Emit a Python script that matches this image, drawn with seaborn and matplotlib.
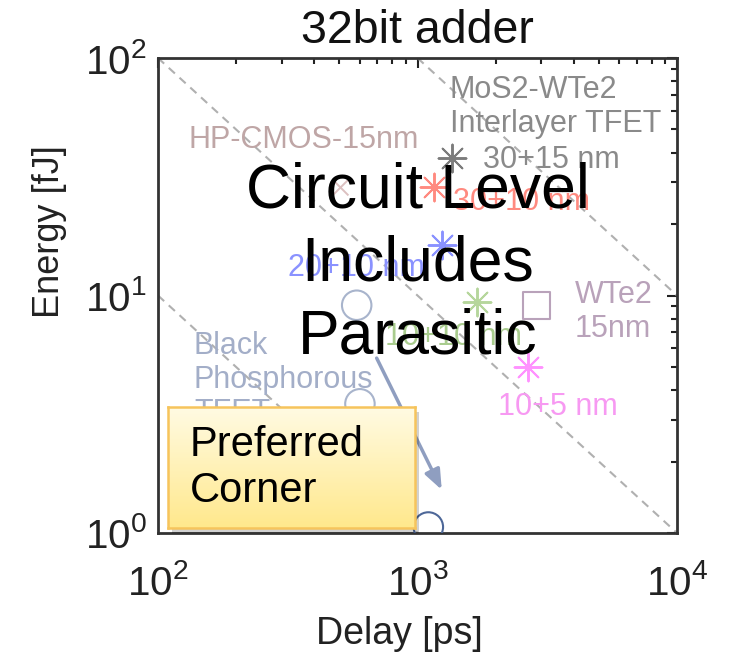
import numpy as np
import pandas as pd
import matplotlib
matplotlib.use("Agg")
import matplotlib.pyplot as plt
import seaborn as sns
from matplotlib.ticker import FixedLocator, FixedFormatter, LogLocator, NullFormatter
from matplotlib.patches import Rectangle
from matplotlib.colors import LinearSegmentedColormap

sns.set_theme(style="white")
plt.rcParams["font.family"] = ["Liberation Sans", "DejaVu Sans"]
plt.rcParams["mathtext.fontset"] = "custom"
plt.rcParams["mathtext.rm"] = "Liberation Sans"

# ---------------- data ----------------
device = ["HP-CMOS-15nm", "30+15 nm", "30+10 nm", "20+10 nm", "10+10 nm",
          "10+5 nm", "WTe2 15nm", "BP a", "BP b", "BP c"]
delay_ps = [502, 1355, 1159, 1240, 1690, 2674, 2877, 583, 600, 1101]
energy_fj = [28.7, 37.8, 28.7, 16.3, 9.4, 5.0, 9.1, 9.1, 3.5, 1.06]
marker_kind = ["x", "ast", "ast", "ast", "ast", "ast", "sq", "o", "o", "o"]
point_color = ["#dcc0c0", "#7c7c7c", "#ff8a80", "#8a92ff", "#b6d69c",
               "#ff92ff", "#b9a2ba", "#a8b4cc", "#a8b4cc", "#4d6798"]

# constant energy-delay-product guide lines (endpoints)
guide_x = [[100, 10000], [1000, 10000], [100, 1000]]
guide_y = [[100, 1], [100, 10], [10, 1]]

# arrow (black phosphorous trend)
arrow_start = (696, 5.45)
arrow_end = (1240, 1.52)

# labels: text, x, y, colour
label_text = ["HP-CMOS-15nm", "MoS2-WTe2\nInterlayer TFET", "30+15 nm", "30+10 nm",
              "20+10 nm", "10+10 nm", "WTe2\n15nm", "10+5 nm",
              "Black\nPhosphorous\nTFET"]
label_x = [130.5, 1334, 1788, 1371, 317, 750, 4046, 2043, 137.6]
label_y = [45.2, 62.2, 37.2, 24.7, 13.1, 6.69, 8.52, 3.39, 4.41]
label_color = ["#bfa6a6", "#8a8a8a", "#8a8a8a", "#ff8a80", "#8a92ff", "#a9cc8e",
               "#b9a2ba", "#f799f2", "#a3aec8"]

xticks = [1e2, 1e3, 1e4]
xtick_labels = [r"$\mathregular{10^{2}}$", r"$\mathregular{10^{3}}$", r"$\mathregular{10^{4}}$"]
yticks = [1e0, 1e1, 1e2]
ytick_labels = [r"$\mathregular{10^{0}}$", r"$\mathregular{10^{1}}$", r"$\mathregular{10^{2}}$"]

df = pd.DataFrame({"device": device, "delay": delay_ps, "energy": energy_fj,
                   "kind": marker_kind, "color": point_color})

# ---------------- figure ----------------
fig = plt.figure(figsize=(7.29, 6.60), dpi=100)
ax = fig.add_axes([158 / 729, 1 - 533 / 660, 519 / 729, 475 / 660])
ax.set_xscale("log")
ax.set_yscale("log")
ax.set_xlim(1e2, 1e4)
ax.set_ylim(1e0, 1e2)

for gx, gy in zip(guide_x, guide_y):
    sns.lineplot(x=gx, y=gy, ax=ax, color="#b0b0b0", lw=1.5,
                 linestyle=(0, (4, 3)), zorder=1)

marker_map = {"x": "x", "ast": (8, 2, 0), "sq": "s", "o": "o"}
size_map = {"x": 130, "ast": 400, "sq": 370, "o": 450}
for i, row in df.iterrows():
    sub = df.iloc[[i]]
    k = row["kind"]
    if k in ("sq", "o"):
        sns.scatterplot(data=sub, x="delay", y="energy", ax=ax, marker=marker_map[k],
                        s=size_map[k], facecolors="none", edgecolor=row["color"],
                        color=row["color"], linewidth=1.5, legend=False, zorder=3)
    else:
        sns.scatterplot(data=sub, x="delay", y="energy", ax=ax, marker=marker_map[k],
                        s=size_map[k], color=row["color"], linewidth=1.4,
                        legend=False, zorder=3)

ax.annotate("", xy=arrow_end, xytext=arrow_start,
            arrowprops=dict(arrowstyle="-|>,head_length=1.0,head_width=0.4",
                            color="#8f9ec0", lw=2.5, shrinkA=0, shrinkB=0),
            zorder=2)

for t, x, y, c in zip(label_text, label_x, label_y, label_color):
    ax.text(x, y, t, color=c, fontsize=22, ha="left", va="center",
            linespacing=1.15, zorder=4)

ax.text(1004, 13.6, "Circuit Level\nIncludes\nParasitic", fontsize=45, color="black",
        ha="center", va="center", linespacing=1.3, zorder=6)

# axes styling
ax.xaxis.set_major_locator(FixedLocator(xticks))
ax.xaxis.set_major_formatter(FixedFormatter(xtick_labels))
ax.yaxis.set_major_locator(FixedLocator(yticks))
ax.yaxis.set_major_formatter(FixedFormatter(ytick_labels))
ax.xaxis.set_minor_locator(LogLocator(base=10, subs=np.arange(2, 10)))
ax.yaxis.set_minor_locator(LogLocator(base=10, subs=np.arange(2, 10)))
ax.xaxis.set_minor_formatter(NullFormatter())
ax.yaxis.set_minor_formatter(NullFormatter())
ax.tick_params(which="both", direction="in", top=True, right=True, colors="#222222",
               width=1.5)
ax.tick_params(which="major", length=7, labelsize=29)
ax.tick_params(which="minor", length=4)
ax.tick_params(axis="x", which="major", pad=22)
ax.tick_params(axis="y", which="major", pad=8)
for s in ax.spines.values():
    s.set_color("#333333")
    s.set_linewidth(2.0)
ax.grid(False)

ax.set_xlabel("Delay [ps]", fontsize=27, color="#222222")
ax.set_ylabel("Energy [fJ]", fontsize=26, color="#222222")
ax.xaxis.set_label_coords(0.466, -0.175)
ax.yaxis.set_label_coords(-0.175, 0.634)
ax.set_title("32bit adder", fontsize=33.5, color="#111111", pad=11)

# "Preferred Corner" callout box
bx0, by0, bw, bh = 168 / 729, 1 - 528 / 660, 247 / 729, 121 / 660
fig.patches.append(Rectangle((bx0 + 4 / 729, by0 - 5 / 660), bw, bh, transform=fig.transFigure,
                             facecolor="#000000", alpha=0.18, edgecolor="none", zorder=4))
bax = fig.add_axes([bx0, by0, bw, bh], zorder=5)
grad = np.linspace(0, 1, 256).reshape(-1, 1)
cmap = LinearSegmentedColormap.from_list("yel", ["#fffbe3", "#ffe88c"])
bax.imshow(grad, aspect="auto", cmap=cmap, extent=(0, 1, 1, 0))
bax.set_xticks([])
bax.set_yticks([])
for s in bax.spines.values():
    s.set_color("#f6c45c")
    s.set_linewidth(1.8)
fig.text(190 / 729, 1 - 468 / 660, "Preferred\nCorner", fontsize=30, color="black",
         ha="left", va="center", linespacing=1.2, zorder=6)

fig.savefig("out.png", dpi=100)
